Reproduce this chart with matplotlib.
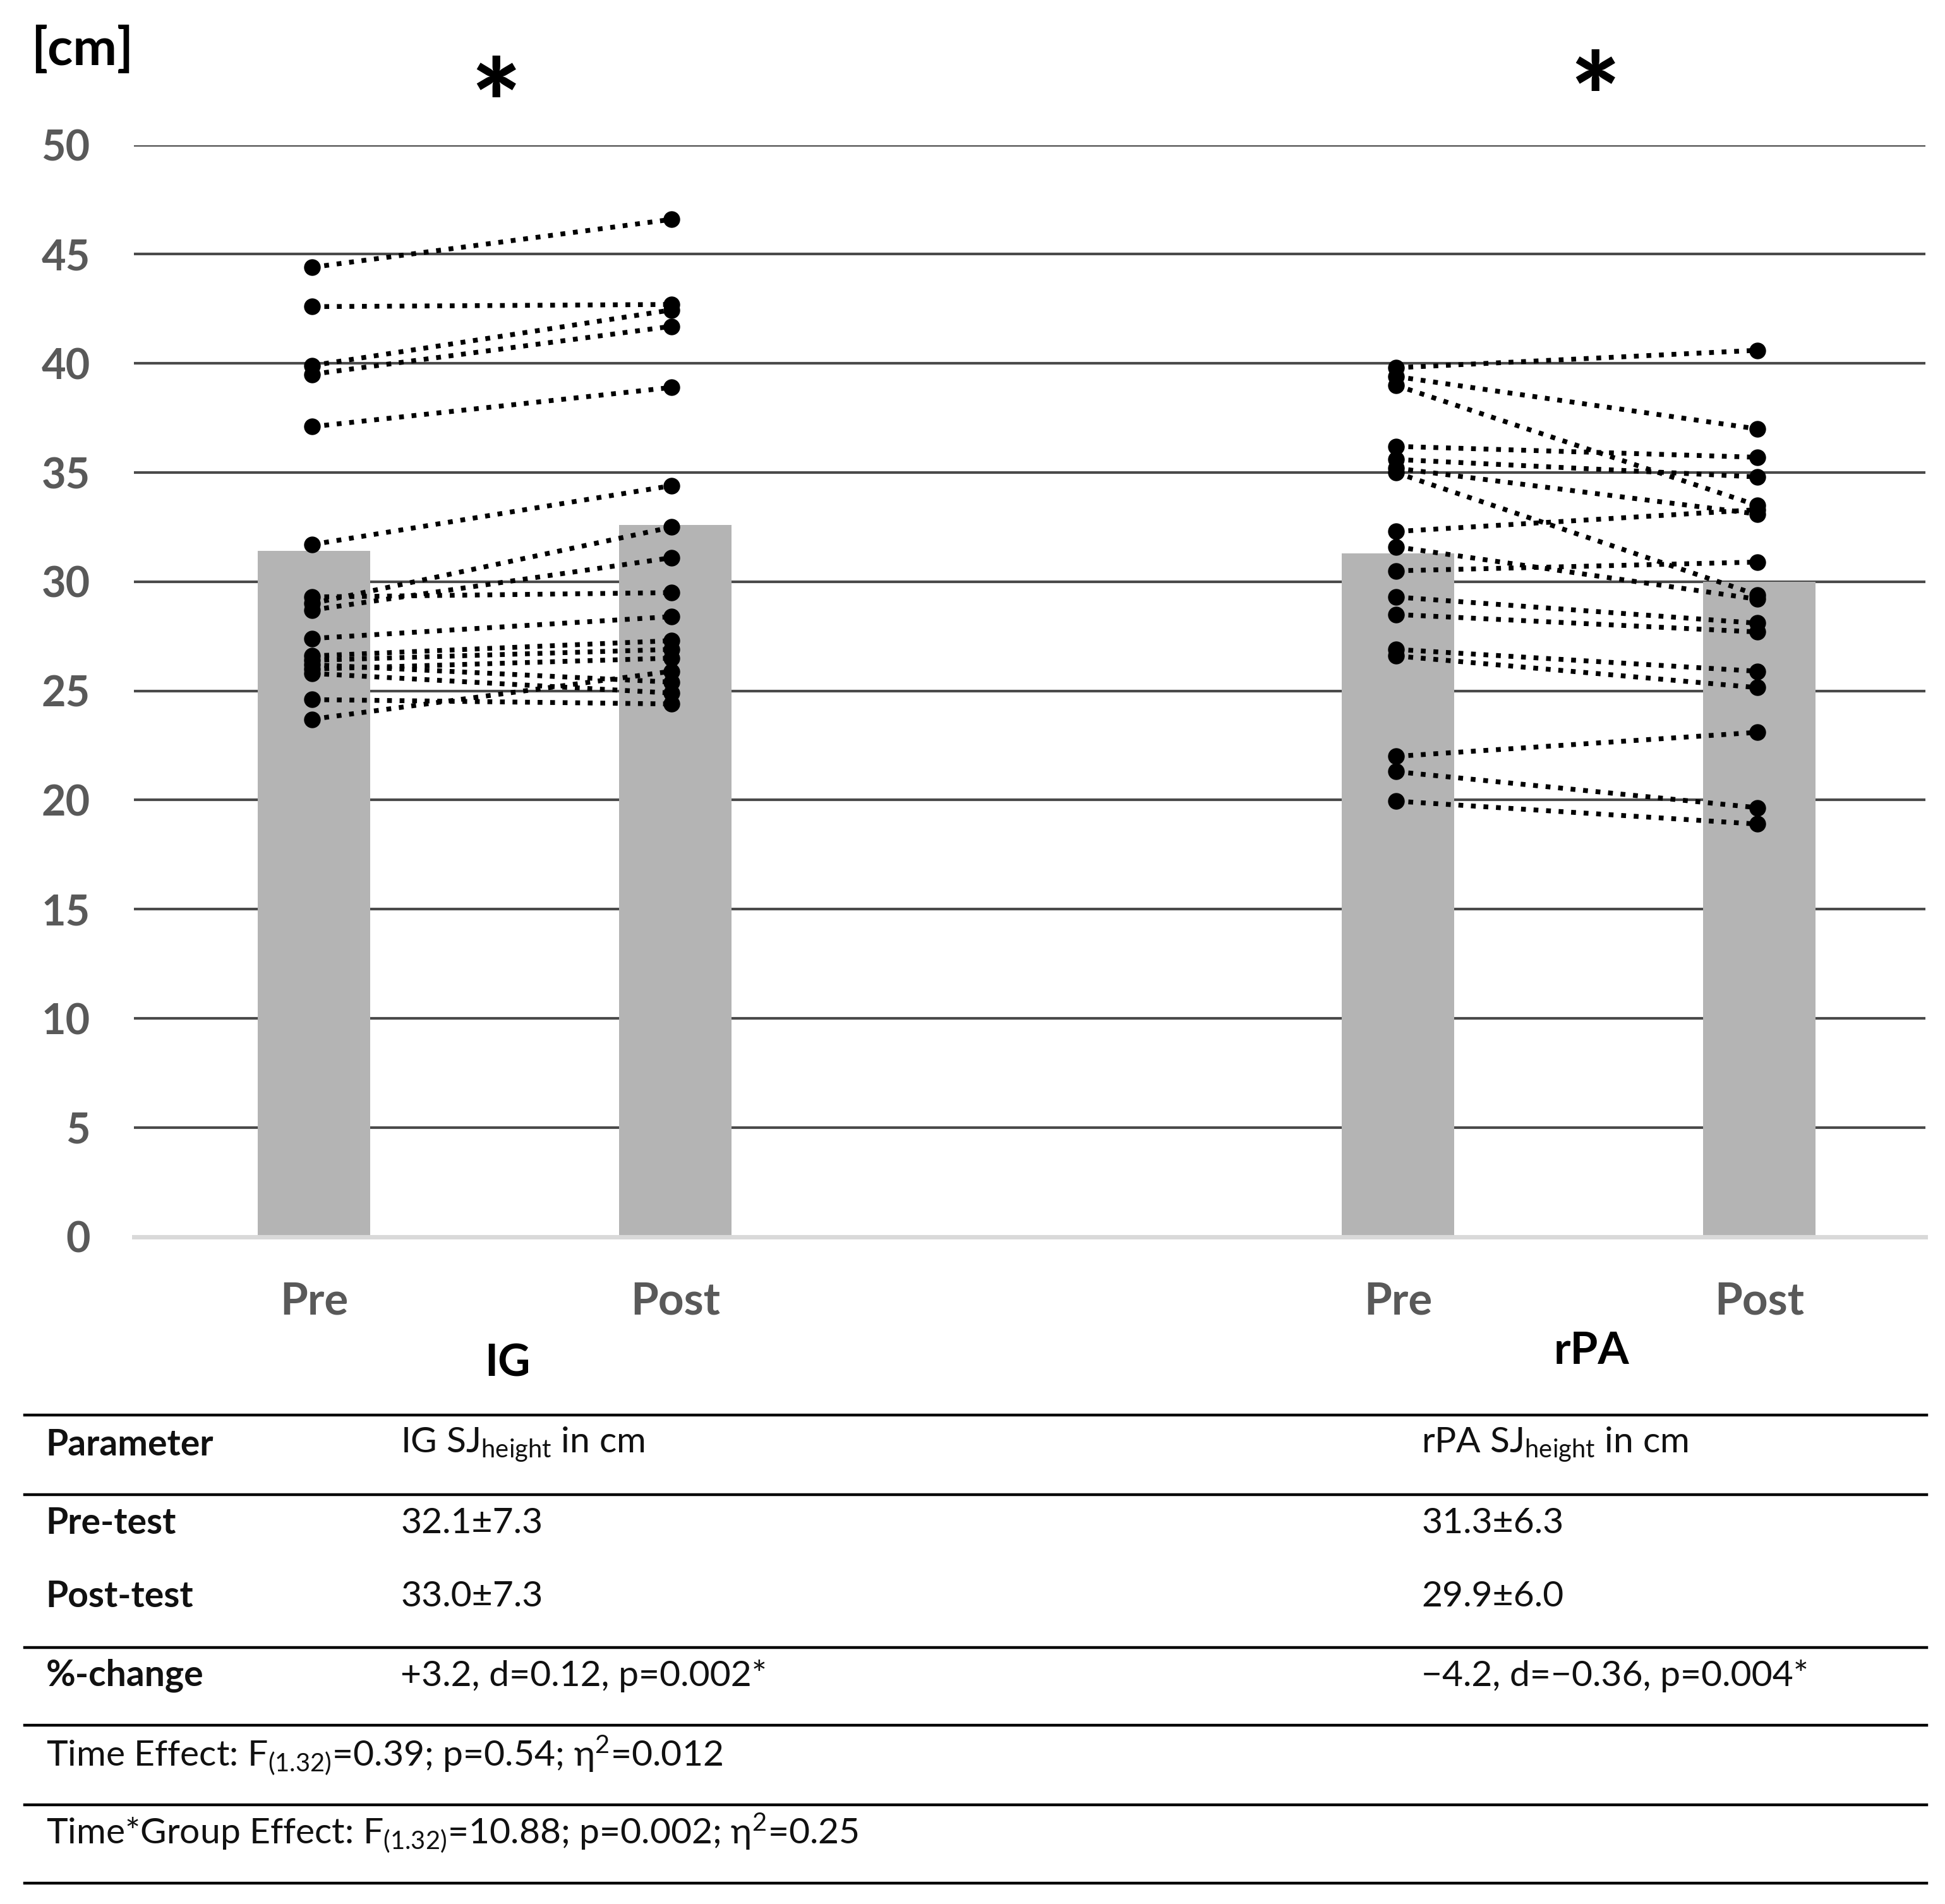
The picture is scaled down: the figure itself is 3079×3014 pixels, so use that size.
import matplotlib
matplotlib.use("Agg")
import matplotlib.pyplot as plt

plt.rcParams['font.family'] = ['Lato', 'DejaVu Sans']
plt.rcParams['mathtext.fontset'] = 'custom'
plt.rcParams['mathtext.rm'] = 'Lato'
plt.rcParams['mathtext.it'] = 'Lato:italic'
plt.rcParams['mathtext.bf'] = 'Lato:bold'
plt.rcParams['mathtext.fallback'] = 'stixsans'

# ---------------- data ----------------
group_labels = ['IG', 'rPA']
time_labels = ['Pre', 'Post', 'Pre', 'Post']
bar_means = [31.4, 32.6, 31.3, 30.0]
y_ticks = [0, 5, 10, 15, 20, 25, 30, 35, 40, 45, 50]

ig_pre = [44.4, 42.6, 39.9, 39.5, 37.1, 31.7, 29.0, 28.7, 29.3, 27.4,
          26.6, 26.4, 26.2, 25.8, 24.6, 23.7, 26.0]
ig_post = [46.6, 42.7, 42.45, 41.7, 38.9, 34.4, 32.5, 31.1, 29.5, 28.4,
           27.3, 26.9, 25.4, 24.9, 24.4, 25.9, 26.5]

rpa_pre = [39.8, 39.4, 39.0, 36.2, 35.6, 35.2, 35.0, 32.3, 31.6, 30.5,
           29.3, 28.5, 26.9, 26.6, 22.0, 21.3, 19.95]
rpa_post = [40.6, 37.0, 33.5, 35.7, 34.8, 33.1, 29.4, 33.3, 29.2, 30.9,
            28.1, 27.7, 25.9, 25.15, 23.1, 19.65, 18.9]

table_col1 = ['Parameter', 'Pre-test', 'Post-test', '%-change']
table_ig = [r'IG S$\mathrm{J_{height}}$ in cm', '32.1±7.3', '33.0±7.3',
            '+3.2, d=0.12, p=0.002*']
table_rpa = [r'rPA S$\mathrm{J_{height}}$ in cm', '31.3±6.3', '29.9±6.0',
             '\u22124.2, d=\u22120.36, p=0.004*']
effect_rows = [r'Time Effect: $\mathrm{F_{(1.32)}}$=0.39; p=0.54; $\mathrm{\eta^{2}}$=0.012',
               r'Time*Group Effect: $\mathrm{F_{(1.32)}}$=10.88; p=0.002; $\mathrm{\eta^{2}}$=0.25']

# ---------------- figure ----------------
W, H = 3079, 3014
fig = plt.figure(figsize=(W / 100, H / 100), dpi=100)
fig.patch.set_facecolor('white')

ax = fig.add_axes([0.0689, 0.3505, 0.9211, 0.5733])
xpos = [0, 1, 3, 4]
ax.set_xlim(-0.498, 4.46)
ax.set_ylim(0, 50)

for y in y_ticks[1:]:
    ax.axhline(y, color='#4a4a4a', lw=3.0, zorder=1)

ax.bar(xpos, bar_means, width=0.31, color='#b4b4b4', zorder=2)

dot_style = dict(color='black', lw=5.5, linestyle=(0, (1, 1.6)),
                 zorder=3, solid_capstyle='butt')
for a, b in zip(ig_pre, ig_post):
    ax.plot([xpos[0] - 0.006, xpos[1] - 0.01], [a, b], **dot_style)
for a, b in zip(rpa_pre, rpa_post):
    ax.plot([xpos[2] - 0.006, xpos[3] - 0.006], [a, b], **dot_style)
ms = 18
ax.plot([xpos[0] - 0.006] * len(ig_pre), ig_pre, 'o', color='black', ms=ms, zorder=4)
ax.plot([xpos[1] - 0.01] * len(ig_post), ig_post, 'o', color='black', ms=ms, zorder=4)
ax.plot([xpos[2] - 0.006] * len(rpa_pre), rpa_pre, 'o', color='black', ms=ms, zorder=4)
ax.plot([xpos[3] - 0.006] * len(rpa_post), rpa_post, 'o', color='black', ms=ms, zorder=4)

for s in ['top', 'right', 'left']:
    ax.spines[s].set_visible(False)
ax.spines['bottom'].set_color('#d9d9d9')
ax.spines['bottom'].set_linewidth(5)
ax.spines['bottom'].set_zorder(2.5)

ax.set_yticks(y_ticks)
ax.set_yticklabels([str(v) for v in y_ticks])
ax.set_xticks(xpos)
ax.set_xticklabels(time_labels)
ax.tick_params(axis='y', length=0, pad=50, labelsize=48, labelcolor='#595959')
ax.tick_params(axis='x', length=0, pad=50, labelsize=51, labelcolor='#595959')
for lab in ax.get_yticklabels() + ax.get_xticklabels():
    lab.set_fontweight('bold')

# group labels
fig.text(409 / 1568, 1 - 1099 / 1535, group_labels[0], fontsize=51, fontweight='bold',
         ha='center', va='center')
fig.text(1283 / 1568, 1 - 1089 / 1535, group_labels[1], fontsize=51, fontweight='bold',
         ha='center', va='center')

# unit and significance stars
fig.text(25 / 1568, 1 - 40 / 1535, '[cm]', fontsize=60, fontweight='bold',
         ha='left', va='center')
fig.text(400 / 1568, 1 - 90 / 1535, '*', fontsize=135, fontweight='black',
         ha='center', va='center')
fig.text(1286 / 1568, 1 - 85 / 1535, '*', fontsize=135, fontweight='black',
         ha='center', va='center')

# ---------------- table ----------------
line_ys = [1141, 1205, 1328, 1391, 1455, 1518]
for ly in line_ys:
    fig.add_artist(plt.Line2D([20 / 1568, 1553 / 1568], [1 - ly / 1535] * 2,
                              color='black', lw=3.2, transform=fig.transFigure))

row_ys = [1165, 1228, 1287, 1351]
x1, x2, x3 = 37 / 1568, 323 / 1568, 1146 / 1568
tsize = 41
for i, ry in enumerate(row_ys):
    yy = 1 - ry / 1535
    fig.text(x1, yy, table_col1[i], fontsize=tsize, fontweight='bold',
             ha='left', va='center', color='#111111')
    fig.text(x2, yy, table_ig[i], fontsize=tsize, ha='left', va='center',
             color='#111111')
    fig.text(x3, yy, table_rpa[i], fontsize=tsize, ha='left', va='center',
             color='#111111')

for txt, ry in zip(effect_rows, [1415, 1478]):
    fig.text(x1, 1 - ry / 1535, txt, fontsize=tsize, ha='left', va='center',
             color='#111111')

fig.savefig('out.png', dpi=100, facecolor='white')
